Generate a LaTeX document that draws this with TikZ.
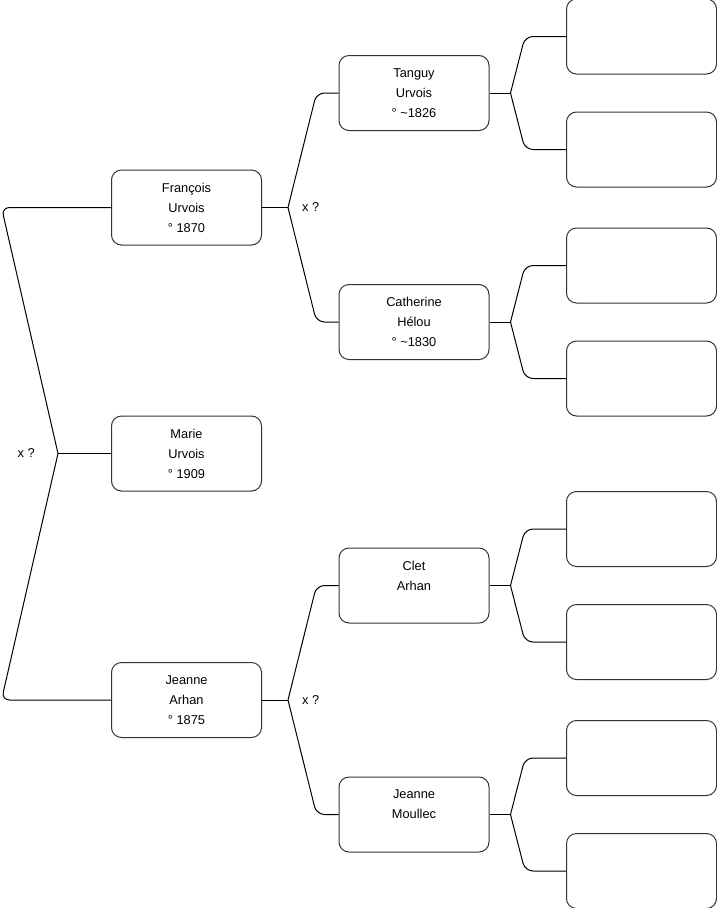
\documentclass[tikz,border=0pt]{standalone}
\usepackage{fontspec}
\setmainfont{Liberation Sans}
\usepackage{tikz}
\usetikzlibrary{positioning,calc}
\definecolor{BoxLine}{HTML}{333333}

\begin{document}
\begin{tikzpicture}[
  person/.style={draw=BoxLine,line width=1pt,rounded corners=10pt,minimum width=150pt,minimum height=75pt,align=center,inner sep=0pt,font=\fontsize{12.8pt}{20pt}\selectfont},
  link/.style={draw=black,line width=1pt},
  union/.style={font=\fontsize{12.8pt}{14pt}\selectfont,inner sep=2pt}
]
\useasboundingbox (0,0) rectangle (716pt,-908pt);
\node[person] (marie) at (186.5pt,-453.5pt) {Marie\\Urvois\\° 1909};
\node[person,above=170pt of marie] (francois) {François\\Urvois\\° 1870};
\node[person,below=170.5pt of marie] (jeanne) {Jeanne\\Arhan\\° 1875};
\node[person,above right=38.5pt and 76.5pt of francois] (tanguy) {Tanguy\\Urvois\\° \textasciitilde1826};
\node[person,below right=38.5pt and 76.5pt of francois] (catherine) {Catherine\\Hélou\\° \textasciitilde1830};
\node[person,above right=38.5pt and 76.5pt of jeanne] (clet) {Clet\\Arhan\\~};
\node[person,below right=38.5pt and 76.5pt of jeanne] (jeannem) {Jeanne\\Moullec\\~};
% unknown ancestors
\foreach \p in {tanguy,catherine,clet,jeannem}{
  \node[person,right=76.5pt of \p,yshift=56.5pt] (\p-a) {};
  \node[person,right=76.5pt of \p,yshift=-56.5pt] (\p-b) {};
}
% parents of Marie
\coordinate (marie-br) at ($(marie.west)+(-53pt,0)$);
\draw[link] (marie.west) -- (marie-br);
\draw[link,rounded corners=8pt] (marie-br) -- (1.5pt,0 |- francois.west) -- (francois.west);
\draw[link,rounded corners=8pt] (marie-br) -- (1.5pt,0 |- jeanne.west) -- (jeanne.west);
\node[union,left=21pt of marie-br] (marie-x) {x ?};
% grandparents
\foreach \p/\a/\b in {francois/tanguy/catherine,jeanne/clet/jeannem}{
  \coordinate (\p-br) at ($(\p.east)+(26pt,0)$);
  \draw[link] (\p.east) -- (\p-br);
  \draw[link,rounded corners=8pt] (\p-br) -- ($(\a.west)+(-22pt,0)$) -- (\a.west);
  \draw[link,rounded corners=8pt] (\p-br) -- ($(\b.west)+(-22pt,0)$) -- (\b.west);
  \node[union,right=12pt of \p-br] (\p-x) {x ?};
}
\foreach \p in {tanguy,catherine,clet,jeannem}{
  \coordinate (\p-br) at ($(\p.east)+(21pt,0)$);
  \draw[link] (\p.east) -- (\p-br);
  \draw[link,rounded corners=8pt] (\p-br) -- ($(\p-a.west)+(-41pt,0)$) -- (\p-a.west);
  \draw[link,rounded corners=8pt] (\p-br) -- ($(\p-b.west)+(-41pt,0)$) -- (\p-b.west);
}
\end{tikzpicture}
\end{document}
